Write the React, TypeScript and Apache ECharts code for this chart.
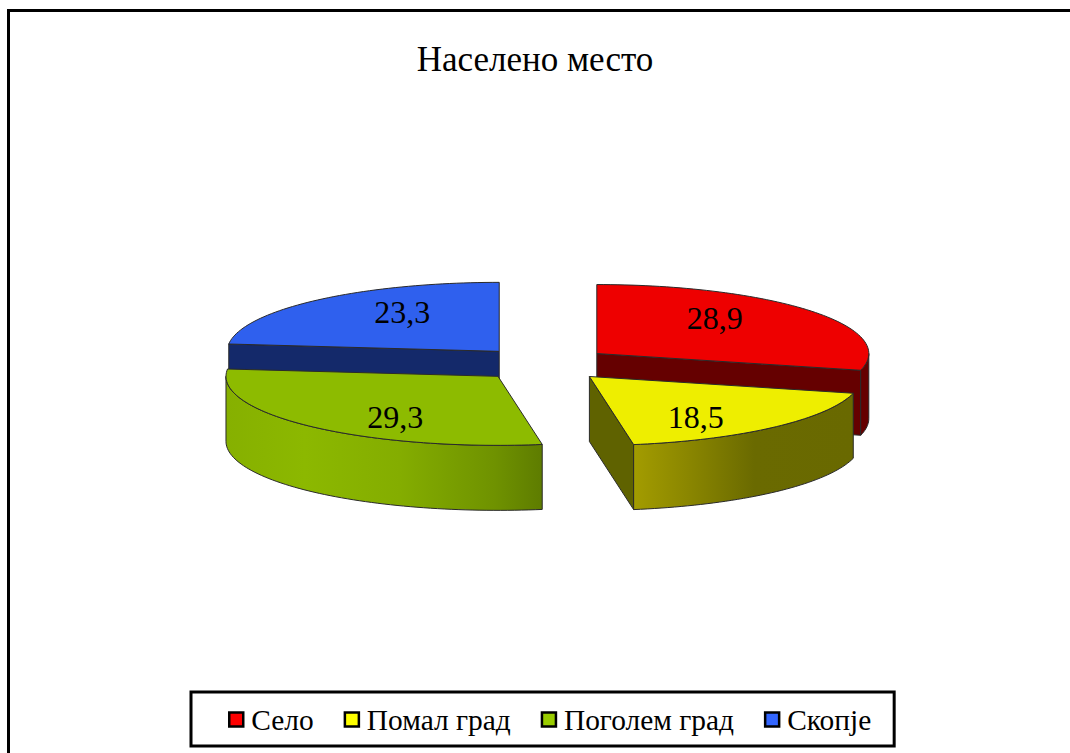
import React, { useEffect, useRef } from "react";
import * as echarts from "echarts";

const titleText = "Населено место";
const categories = ["Село", "Помал град", "Поголем град", "Скопје"];
const values = [28.9, 18.5, 29.3, 23.3];
const swatchColors = ["#ff0000", "#ffff00", "#99cc00", "#3366ff"];
const topColors = ["#ee0000", "#eeee00", "#8dbb00", "#2f60ee"];
const innerWallColors = ["#650000", "#5f6200", "#5f7c00", "#14296a"];
const outerWallStops = [
  [[0, "#650000"], [1, "#650000"]],
  [[0, "#a39c00"], [0.25, "#8a8600"], [0.55, "#6a6a00"], [1, "#696900"]],
  [[0, "#86b000"], [0.25, "#8cb800"], [0.55, "#84ad00"], [0.85, "#6f9200"], [1, "#5e7c00"]],
  [[0, "#14296a"], [1, "#14296a"]],
];
const labelNudge = [[0, -2], [5, 1], [0, 2], [3, 1]];
// back slices are painted first
const paintOrder = [3, 0, 2, 1];

const CX = 544;
const CY = 364;
const RX = 272;
const RY = 69;
const EXPLODE = 67;
const DEPTH = 65;
const SERIF = '"Liberation Serif", "Times New Roman", serif';

const total = values.reduce((a, b) => a + b, 0);
const rad = (d: number) => (d * Math.PI) / 180;

function arc(cx: number, cy: number, a0: number, a1: number) {
  const pts: number[][] = [];
  const n = Math.max(2, Math.ceil(Math.abs(a1 - a0) / 1.5));
  for (let i = 0; i <= n; i++) {
    const a = rad(a0 + ((a1 - a0) * i) / n);
    pts.push([cx + RX * Math.sin(a), cy - RY * Math.cos(a)]);
  }
  return pts;
}

function makeRenderItem(idx: number) {
  return (_params: any, api: any) => {
    const v = api.value(0);
    let before = 0;
    for (let i = 0; i < idx; i++) before += values[i];
    const a0 = (before / total) * 360;
    const a1 = a0 + (v / total) * 360;
    const mid = rad((a0 + a1) / 2);
    const cx = CX + EXPLODE * Math.sin(mid);
    const cy = CY - EXPLODE * (RY / RX) * Math.cos(mid);
    const children: any[] = [];
    const outline = { stroke: "#2a2a2a", lineWidth: 1 };

    const edgeWall = (a: number) => {
      const p = arc(cx, cy, a, a)[0];
      children.push({
        type: "polygon",
        shape: { points: [[cx, cy], p, [p[0], p[1] + DEPTH], [cx, cy + DEPTH]] },
        style: { fill: innerWallColors[idx], ...outline },
      });
    };
    if (Math.sin(rad(a0)) < -1e-6) edgeWall(a0);
    if (Math.sin(rad(a1)) > 1e-6) edgeWall(a1);

    const f0 = Math.max(a0, 90);
    const f1 = Math.min(a1, 270);
    if (f1 > f0) {
      const up = arc(cx, cy, f0, f1);
      const down = up.map((p) => [p[0], p[1] + DEPTH]).reverse();
      const stops = outerWallStops[idx];
      children.push({
        type: "polygon",
        shape: { points: up.concat(down) },
        style: {
          fill: {
            type: "linear",
            x: 0,
            y: 0,
            x2: 1,
            y2: 0,
            colorStops: stops.map((s) => ({ offset: s[0], color: s[1] })),
          },
          ...outline,
        },
      });
    }

    children.push({
      type: "polygon",
      shape: { points: [[cx, cy], ...arc(cx, cy, a0, a1)] },
      style: { fill: topColors[idx], ...outline },
    });

    children.push({
      type: "text",
      silent: true,
      style: {
        text: String(v).replace(".", ","),
        x: cx + 0.55 * RX * Math.sin(mid) + labelNudge[idx][0],
        y: cy - 0.78 * RY * Math.cos(mid) + labelNudge[idx][1],
        fill: "#000",
        font: `32px ${SERIF}`,
        align: "center",
        verticalAlign: "middle",
      },
    });
    return { type: "group", children };
  };
}

export default function App() {
  const ref = useRef<HTMLDivElement>(null);
  useEffect(() => {
    const chart = echarts.init(ref.current!, null, { renderer: "svg" });
    chart.setOption({
      animation: false,
      backgroundColor: "#ffffff",
      title: {
        text: titleText,
        left: "center",
        top: 37,
        textStyle: { fontFamily: SERIF, fontSize: 35, fontWeight: "normal", color: "#000" },
      },
      legend: {
        show: true,
        left: 191,
        top: 692,
        orient: "horizontal",
        padding: [13, 23, 12, 37],
        itemGap: 30,
        itemWidth: 14,
        itemHeight: 14,
        borderColor: "#000",
        borderWidth: 3,
        backgroundColor: "#fff",
        textStyle: { fontFamily: SERIF, fontSize: 29.4, color: "#000", padding: [0, 0, 0, 3] },
        data: categories.map((name, i) => ({
          name,
          icon: "rect",
          itemStyle: { color: swatchColors[i], borderColor: "#000", borderWidth: 2.5 },
        })),
      },
      graphic: [
        { type: "rect", shape: { x: 7, y: 9, width: 1063, height: 3 }, style: { fill: "#000" } },
        { type: "rect", shape: { x: 7, y: 9, width: 3, height: 744 }, style: { fill: "#000" } },
      ],
      series: paintOrder.map((i) => ({
        type: "custom",
        name: categories[i],
        coordinateSystem: "none",
        z: 2 + paintOrder.indexOf(i),
        itemStyle: { color: swatchColors[i] },
        data: [[values[i]]],
        renderItem: makeRenderItem(i),
      })),
    });
    return () => chart.dispose();
  }, []);
  return (
    <div
      ref={ref}
      style={{ position: "fixed", left: 0, top: 0, width: 1070, height: 753 }}
    />
  );
}
